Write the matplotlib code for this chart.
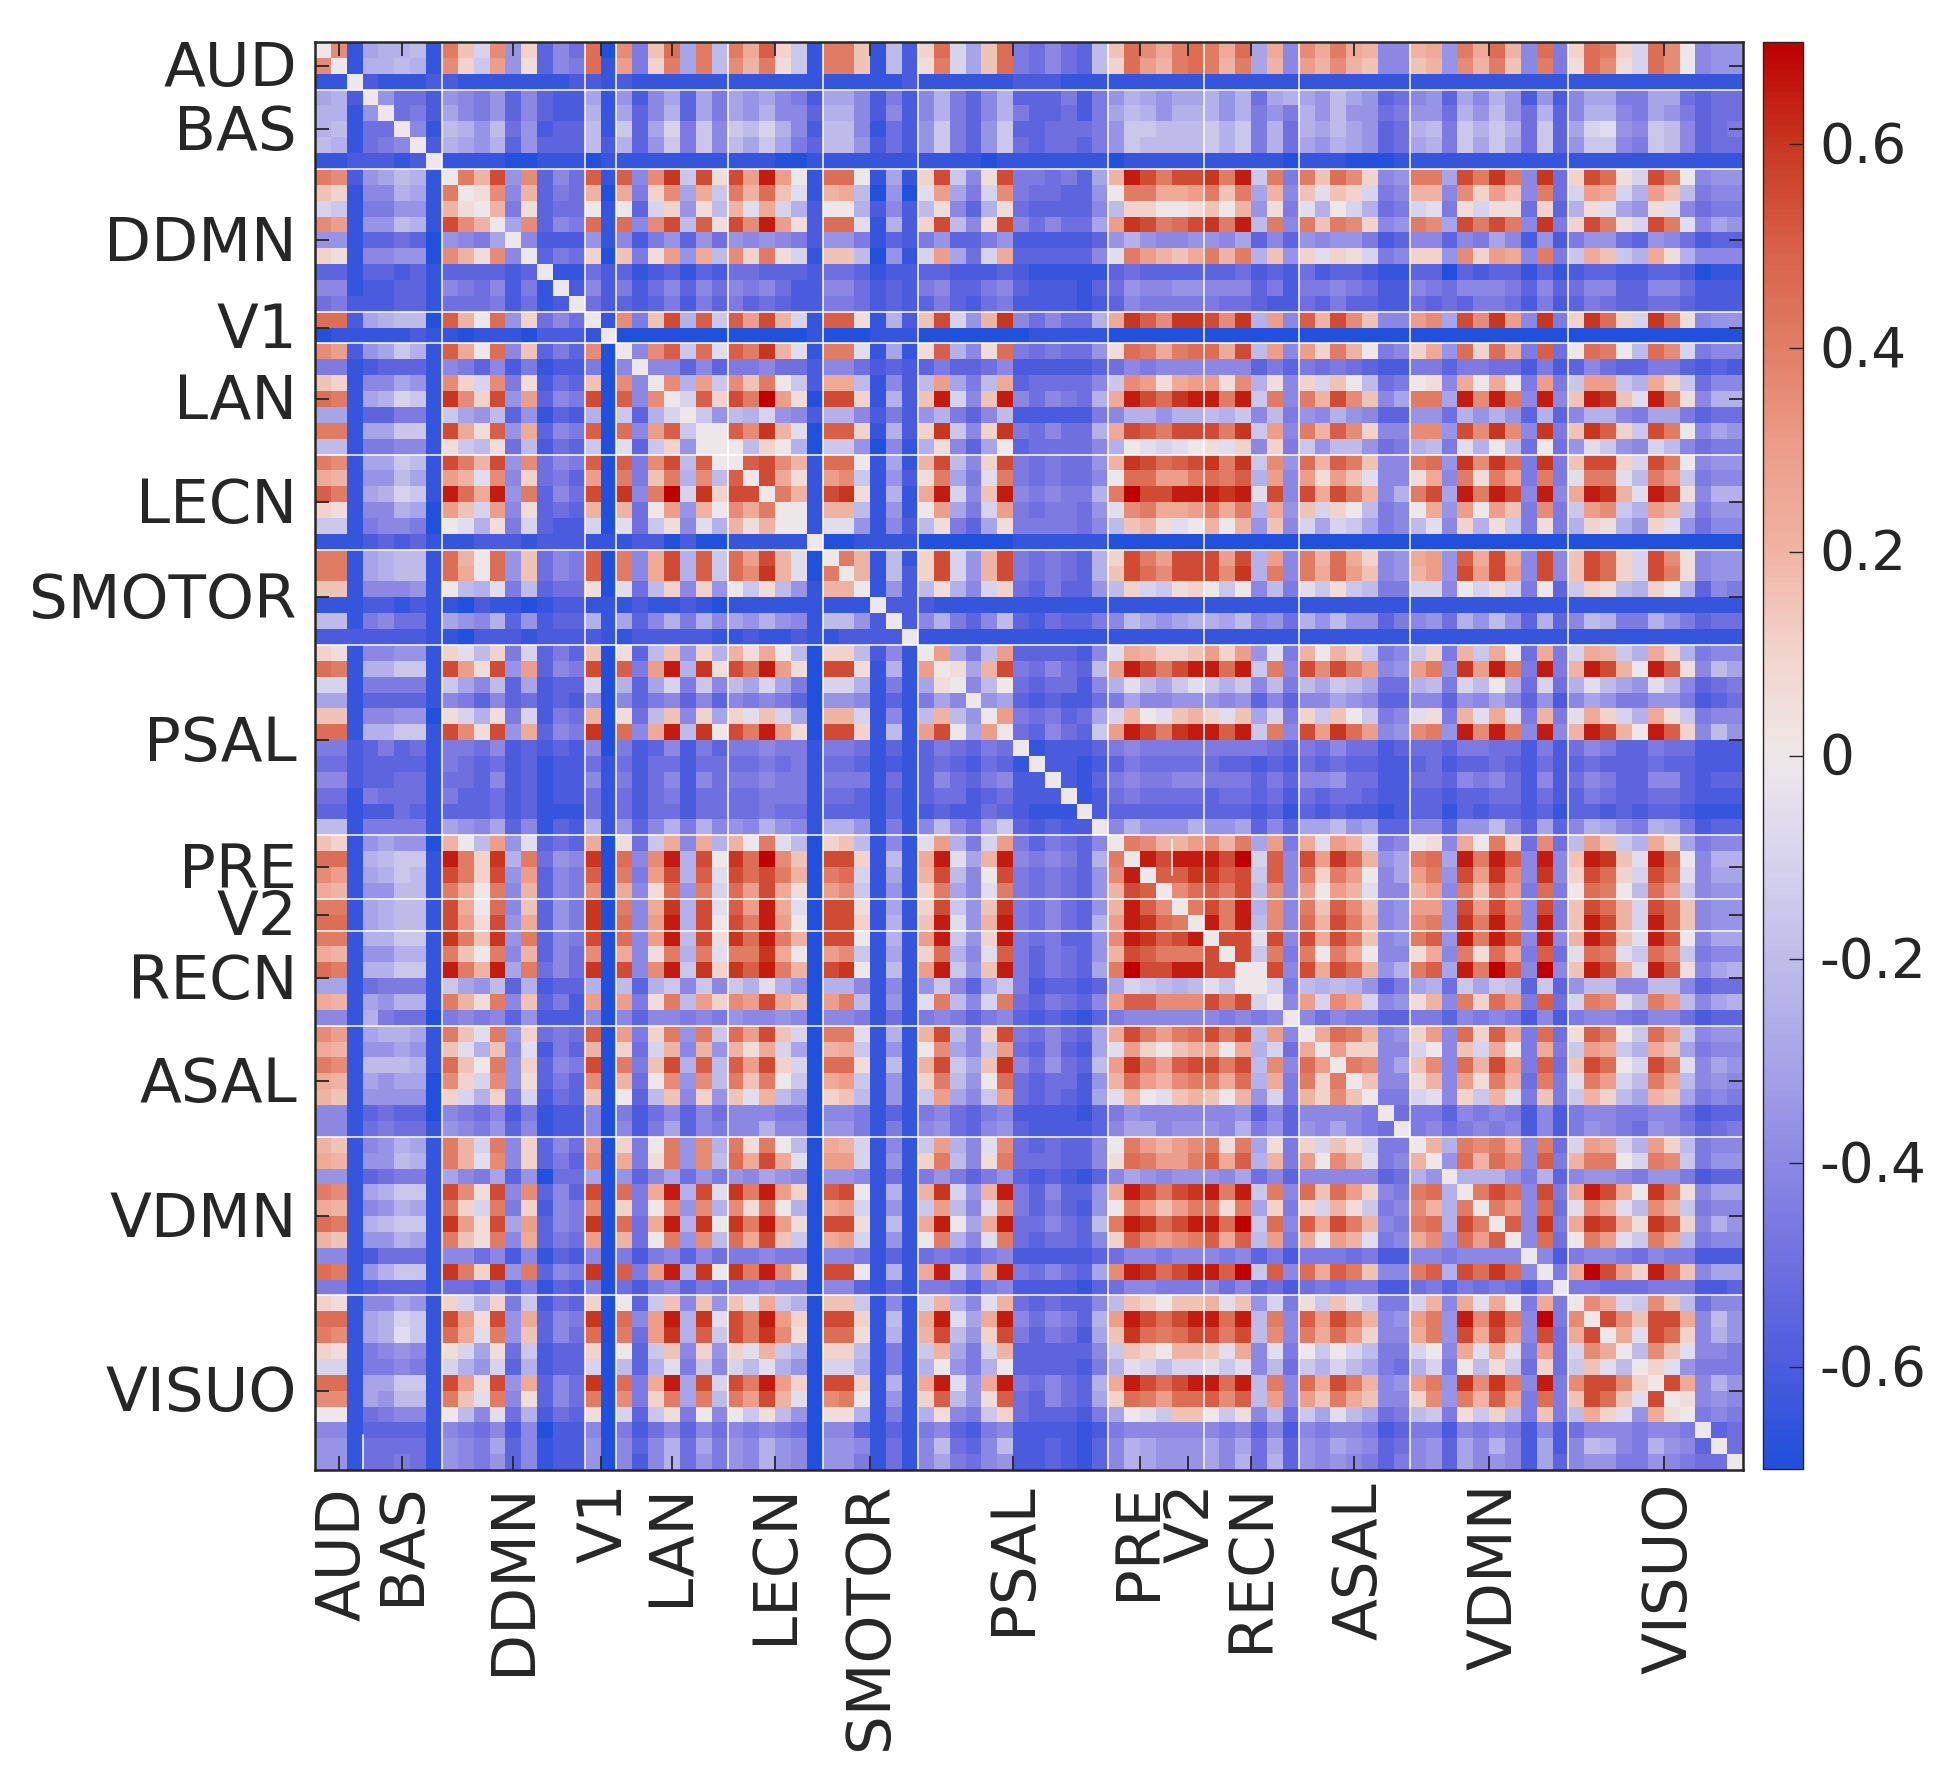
import numpy as np
import matplotlib
matplotlib.use("Agg")
import matplotlib.pyplot as plt
from matplotlib.colors import LinearSegmentedColormap
from matplotlib.transforms import ScaledTranslation

# network names and how many regions each one has
group_names = ["AUD", "BAS", "DDMN", "V1", "LAN", "LECN", "SMOTOR", "PSAL",
               "PRE", "V2", "RECN", "ASAL", "VDMN", "VISUO"]
group_sizes = [3, 5, 9, 2, 7, 6, 6, 12, 4, 2, 6, 7, 10, 11]

# one letter per cell, in 0.05 steps: a=-0.70 ... n=-0.05, 0=0, A=0.05 ... N=0.70
levels = "abcdefghijklmn0ABCDEFGHIJKLMN"

# upper triangle, row r starts at column r
upper_rows = [
    "0Gb ijjkb HCmGhBdge Ia GfCIiHk HEJBlb HHCbkc BImiCIfegedk CIGE HI HEIiEg GEHEDgg DEhHEIDgIf BIHBmIG0ghh",
    "0b jjkjb GBlFhAdgf Ib FfBHiHk GDHAlb HHCbkc AHmiCIfegedk BIFD HI HDHiDg FDGDCgg CDhGDHCgHf AIGAmIG0ghh",
    "0 cbbbc cbbbbbbbc cb cbbbbbb bbbbbb bbbbbc bbbbbbcccbbb bbbb bb bbbbbb bbbbbbb bbbbbbbbbb bbbbbbbbbbb",
    "0heec hgfhdgdcc ib hcgidif ihigfc iigcfc gjfdgjdddfcf hjih ii jhjeij ihkihde ghdigjhchc giiffiiedee",
    "0efc igfhdgdcc jb idgjdif ihjggd jjgcgc gjfdgjfddecf ikjh jj jhjfhf jhkhhef hhejhkhejd gjjgfihfdee",
    "0gb kjhkehcdd kb ldimflg lkmjgc kkgbec hlfdhlddeeef hllk kk ljlfje jikihde jkfljljeld imnhglkgdef",
    "0c jihjdhddd kc jdhlflg kilifd kkhcec hlfdhledeedf hlkk kk ljlfje ihjihde ijflilield hllgflkgdee",
    "0 bbbbaabbb ab bbbbbbb bbbaab bbbbbb bbbbabbbbbbb abbb bb bbbbba bbbaaab bbbbbbbbbb bbbbbbbbbbb",
    "0HDKhGdge Jb JgGLlKA KFMF0b II0bib BKlgAKffefdi DMKH KK LHMlHf HCIGBgh HHiKHLHgLe BKIAmKH0ghh",
    "0AGgDdfe Da EfBGiEl HDICnb DEkaha nFifmGfeeddh 0HHE EF HCHiDg CnCBmfg DDgGBFCgHe mFEmjFCkfgg",
    "0DfAdee 0b 0dmBhAk DnEmjc 00jcgc kAgdjAeddddg kBB0 0A C0DhAf nj0mjef mnfAmAAeBd jAnihAngeff",
    "0iGdgf Ib IgGKkJA KGMFAc IInbjc BKkgAKgegeei FLKH IK LHMkHg HCHGBgh HGiKHKHgLf BKHAmKHngih",
    "0gccc hb gcfhdhe hghgfc hhfbdc fhddfhcccccd hjhg gh hgidgd hghhfcd ggdgfigchc fhhedhgecdd",
    "0dfe Ba CfAFhEk GBHAmb CCkahb mFiemEdddddg nHFD CE HDHjCh BnBAmfg BBhGBFEgHf lECljEAjggg",
    "0bb ec dbcdbdc eedddc eedbcc ddcccdcbbbbb dedd dd ddecdc ecddcbb ddadcddbdb cddccddcabb",
    "0c gc fcegdge gfgecc ggecdc fgddfgdcccbd ehgg hh gggdfc ffgfecc gfegggfdgd eggddggeccc",
    "0 ec dcdfcfd fdedcc ffecdc dfdcefccccbc dgff ff feedcc edfddcc ededffecfc dfeddeedccc",
    "0b GfCKjJl JFKDmb JJAbjc CKmhDLgegeej ELJG LL KGLjFg JDKGCgg FGiKGLFgLf BLIBmLHAghh",
    "0 aaaaaaa aaaaab aaabbb aaaaaaabbbbb aaaa aa aaaaaa aaaaaaa aaaaaaaaaa aaaaaaaaaaa",
    "0gGJlIn JHLDnb HHnbib AJjgAIfefeeh AIHE HI IEKkFg FBHD0fg BEhIBIDfJe 0IH0kIGmfgg",
    "0ggdgd ffgeec ggecdc dfddegcccccd egfg gg gggdfd fefedcc ffdffeecfc dgeddffdcdc",
    "0GjFl GCH0lc EEkbgc kFifkEdeeeeg lGFA EF FAGjAg BmC0kef 0AgE0E0fFf lFFljEBlegg",
    "0mJB KHNFAa KKBbjc CMmgCMgegfej EMKI LM MHMlHg HDKGCgi HHiMGMHgMg CMLCnMHAgjj",
    "0lh kjmhgc jjgcfc hjfdgkcccccf gjjh jj kjlgkf hgjhgdd hhejhjhdjd gjjgfiifdee",
    "00 JGLDna JJBbjc BLlgBLfegeej EKJH KK KHLlFg HDJGBgg GGhKGLGgLf CLJBlKH0gih",
    "0 0kB0ja llhagb jAgdi0deeeeg j0nm n0 AnBgBf lhkkhef jkfnj0ke0e hnlhgmkgeff",
    "0JKGDb II0bib DKkgBKfefeeh DLKI JK LHLlGh IDJHCgg HIhLGLIfLf CKKBmKH0ghh",
    "0KEAb FGlbhc AHifnHfefeeg 0IIF FH IHJjFg FAFCngg AEgHAHEfHf nHHnkHFlfgg",
    "0HDb KLAbjb EMmgCMgfgffj HNKK MM MLMnKg KEKHDgj HKiMHMKgMg EMLDnMKAgjj",
    "00b DDkbhb 0FifmFfeffeh nGHE EF HEHjEh CmB0kfg 0EhF0FCfGf lFGljFDkfhh",
    "0b nnhbgc kAfdiAffffeg kCDA n0 D0DhCg mimlifg kngBjAlfAf jBAjhBnhegg",
    "0 aabbbb aaaaaabbbbbb aaaa aa aaaaaa aaaaaaa aaaaaaaaaa aaaaaaaaaaa",
    "0HDbkb BKmhDKfefedj BKHF KK KFKjFg HDIEBgh EFhJEKEgKg CKIBmKGAghh",
    "0Dbkc BKmhDKfefedj CKIG KK KGLjHg HEIFCgh DFhKFKFgKg CKIBmKHAghh",
    "0bhc kAjgmBedfddh kBml AB 0l0gkf nlAlkff mmg0mAmf0d lBAkjB0jdgf",
    "0cc cbbbbbbbbbbb bbbb bb bbbbbb bbbbbbb bbbbbbbbbb bbbbbbbbbbb",
    "0c gjfdgkdceddf gkih ij jikghe jhkhhdf ghejhkhdjd gkjffjhfdee",
    "0 bbbbbbbbbbbb bbbb bb bbbbbb bbbbbbb bbbbbbbbbb bbbbbbbbbbb",
    "0Fifk Fddddcg nEDB BC FBFhnf D0DBlfg lBfDlE0eEf mEDljEBjfgg",
    "0AiDKfegedk FMKH KM MIMlHg KGKHFgh FHhLFMHfMf DMKD0MJAgki",
    "0gk0edeecg jnki ln ljlgkf kilkiee jkfmk0jeme jnkihnkgdef",
    "0hidcdcce figg hh hghdgd ggihgdd ggdhgigdhc gihffhhfcde",
    "0Ffefdei mD0n CD BnCimf BlC0lfg nAfDnEnfDf nEBmjEAlfgg",
    "0edgedl FMKH LM MJMlHg KFLIFgh GHhMGMHgMg DMKD0MJBgkh",
    "0bcccd fgff ff ffffed fegeecd eedffeecfc egfddfeeccc",
    "0ccbc dfee ee eddcdc ededdcc decddedcec dedddeddccc",
    "0cbd fgff gg fffdfd ggheecc eedgfgecgc egfddggdcdd",
    "0bc efee ee deedec edeedcc ddcddeecec dfeddeedccc",
    "0c dddd dd dddcdb dcdccbc ddbdcddcdb ddcdcddcbbb",
    "0 gjhh hj hhidgd iikhidd ggdhhkgdid gjigfjifcdd",
    "0HGD DF GDHiFf EnFDnfg 0AgE0HBeGe kFCljEBifgg",
    "0MK MM MKNmJg KFLIDhi HIiMHMJgMg CMLCnMI0gjj",
    "0J JL LJKlJg HBHF0gi FHhKFLGgLg BKIBmKHngii",
    "0 GI JHKkGg F0FDngg DFgHCIFfIf 0IH0kIFlghh",
    "0H KHMjGg HCJGCgh FFhKFKGgKf CKIDmKICghh",
    "0 MHMkGg IDKHDgh GHhLHMHgMf CMKDmMICghh",
    "0KKnKg KEKHCgh HJhMHMJgMg DMKCnMJ0gii",
    "0KlHf H0HE0gg AEgHAIEfJe nIHnlIGlfgg",
    "00Kg KEKIDhj HJiMHNJgNg CMKEnMJAgij",
    "0mf kjkjhdf ijelilkdld hkkggkkgdee",
    "0g FmGEmgh ADgHBIFfJe mHGnkHFkgij",
    "0 gegffdd ffdgfgfcgc fggfeggecdd",
    "0EIHDgh BFgIBJEfIe AJH0lIFlghh",
    "0FBBgg m0gCmE0fEf lFEljECifgg",
    "0HGgi CGgIDKFfJe CKI0mKHngih",
    "0Cgg ADgFAHDeHf nHFmkHEkghg",
    "0ff mngBlDnfCf lDBkiDCifgf",
    "0e ffdgfgfcgc fggffggecdd",
    "0 fgefgfgcgc fhgfehgfdef",
    "0DjHGHEgHe mFEmjFBkfgg",
    "0hIDIGgJf DHH0mHGlfhh",
    "0jjjhfjd ghhgfhhfcdd",
    "0HKIgKf EMKE0LHAgii",
    "0HFgIe nGEnkGDlfgg",
    "0JgLf ELKEALJBgjh",
    "0gIe 0HFnlHEkfgg",
    "0gc fggfegffccc",
    "0f ENKFBMICgii",
    "0 ffeeefffccd",
    "0GEmlGCkegg",
    "0KGCKKEgkh",
    "0EnKIBgjh",
    "0kGCnggf",
    "0Bnhfff",
    "0KEgjh",
    "0Aghg",
    "0fgf",
    "0de",
    "0e",
    "0",
]

colorbar_ticks = [-0.6, -0.4, -0.2, 0, 0.2, 0.4, 0.6]
colorbar_labels = ["-0.6", "-0.4", "-0.2", "0", "0.2", "0.4", "0.6"]

n = sum(group_sizes)
bad = []
corr = np.zeros((n, n))
for r, row in enumerate(upper_rows):
    codes = row.replace(" ", "")
    if len(codes) != n - r:
        bad.append((r, len(codes), n - r))
        continue
    for k, ch in enumerate(codes):
        corr[r, r + k] = (levels.index(ch) - 14) * 0.05
        corr[r + k, r] = corr[r, r + k]
if bad or len(upper_rows) != n:
    raise ValueError(f"bad rows {bad}, {len(upper_rows)} rows")

cmap = LinearSegmentedColormap.from_list("corr", [
    "#2050DC", "#4C5CDE", "#7070E0", "#8C88E4", "#A8A4E8", "#C0BCEA", "#D8D4EE",
    "#EEE8EA",
    "#F2D4CC", "#F0B4A4", "#EC9E8A", "#E27E66", "#D86048", "#C83820", "#BE0000"])

text_color = "#262626"
fig = plt.figure(figsize=(19.5, 17.75), dpi=100)
W, H = 1950, 1775
ax = fig.add_axes([315 / W, (H - 1470) / H, 1428 / W, 1428 / H])
cax = fig.add_axes([1763 / W, (H - 1469) / H, 40 / W, 1427 / H])

im = ax.imshow(corr, cmap=cmap, vmin=-0.7, vmax=0.7, aspect="auto", interpolation="nearest")

edges = np.cumsum(group_sizes)
centers = edges - np.array(group_sizes) / 2 - 0.5
centers[-1] += 0.5  # VISUO tick sits half a cell right of the middle

# network borders; the ones at 3 and 54 only show as short pieces in the vertical
for e in edges[:-1]:
    ax.axhline(e - 0.5, color="white", lw=1.1)
    if e not in (3, 54):
        ax.axvline(e - 0.5, color="white", lw=1.1)
ax.plot([2.5, 2.5], [87.3, 89.5], color="white", lw=1.1)
ax.plot([53.5, 53.5], [49.8, 52.0], color="white", lw=1.1)

ax.set_xticks(centers)
ax.set_yticks(centers)
ax.set_xticklabels(group_names, rotation=90, fontsize=44, color=text_color)
ax.set_yticklabels(group_names, fontsize=44, color=text_color)
ax.tick_params(axis="both", direction="in", length=10, width=1.3, color=text_color,
               top=True, right=True)
ax.tick_params(axis="x", pad=9)
ax.tick_params(axis="y", pad=13)
for spine in ax.spines.values():
    spine.set_linewidth(1.8)
    spine.set_color(text_color)

# small nudges in pixels so the labels land where the reference has them
x_nudge = {"AUD": 4, "V1": 4, "PRE": -2, "V2": 4, "ASAL": 6, "VDMN": 6, "VISUO": 6}
for label in ax.get_xticklabels():
    dx = x_nudge.get(label.get_text(), 0)
    dy = -5 if label.get_text() == "AUD" else 0
    label.set_transform(label.get_transform() + ScaledTranslation(dx / 100, dy / 100, fig.dpi_scale_trans))
for label in ax.get_yticklabels():
    label.set_transform(label.get_transform() + ScaledTranslation(0, 2.5 / 100, fig.dpi_scale_trans))

cb = fig.colorbar(im, cax=cax)
cb.set_ticks(colorbar_ticks)
cb.set_ticklabels(colorbar_labels)
cax.tick_params(direction="in", length=10, width=1.0, color=text_color,
                labelcolor=text_color, labelsize=39.5, pad=12)
for label in cax.get_yticklabels():
    label.set_transform(label.get_transform() + ScaledTranslation(0, 2.5 / 100, fig.dpi_scale_trans))
cb.outline.set_linewidth(1.0)
cb.outline.set_edgecolor(text_color)

fig.savefig("out.png", dpi=100)
plt.close(fig)
